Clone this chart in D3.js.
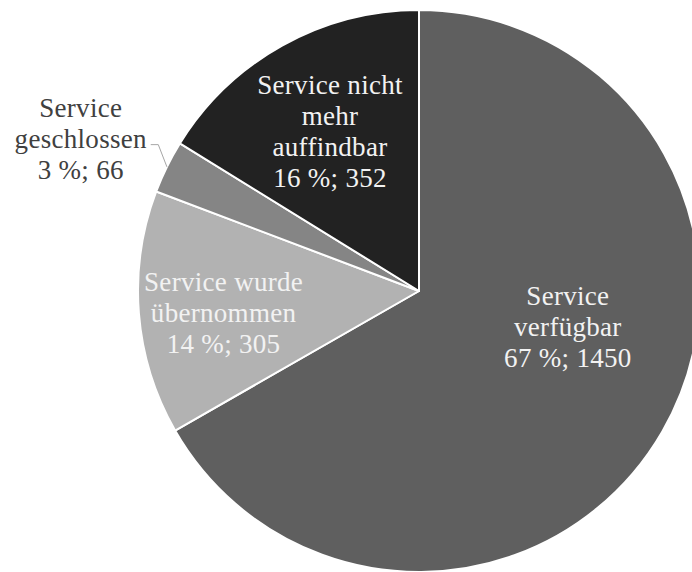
<!DOCTYPE html>
<html>
<head>
<meta charset="utf-8">
<script src="https://cdn.jsdelivr.net/npm/d3@7"></script>
<style>
  body { margin: 0; background: #fff; }
  svg { display: block; }
</style>
</head>
<body>
<div id="chart"></div>
<script>
// data
const categories = [
  'Service verfügbar',
  'Service wurde übernommen',
  'Service geschlossen',
  'Service nicht mehr auffindbar'
]
const counts = [1450, 305, 66, 352]
const percents = ['67 %', '14 %', '3 %', '16 %']
// how each label is broken into lines
const labelLines = [
  ['Service', 'verfügbar'],
  ['Service wurde', 'übernommen'],
  ['Service', 'geschlossen'],
  ['Service nicht', 'mehr', 'auffindbar']
]

const width = 692
const height = 572
const cx = 419
const cy = 291
const radius = 281

const colors = ['#5f5f5f', '#b2b2b2', '#858585', '#222222']
// label placement: radius as share of pie radius, angle shift in degrees
const labelRadius = [0.545, 0.70, 1.32, 0.65]
const labelShift = [-16.5, -2, -2, 0]
const outside = [false, false, true, false]

const svg = d3
  .select('#chart')
  .append('svg')
  .attr('width', width)
  .attr('height', height)

const g = svg.append('g').attr('transform', `translate(${cx},${cy})`)

const data = categories.map((c, i) => ({
  name: c,
  value: counts[i],
  pct: percents[i],
  lines: labelLines[i],
  i: i
}))

const pie = d3
  .pie()
  .value(d => d.value)
  .sort(null)

const arc = d3
  .arc()
  .innerRadius(0)
  .outerRadius(radius)

const arcs = pie(data)

g.selectAll('.slice')
  .data(arcs)
  .enter()
  .append('path')
  .attr('class', 'slice')
  .attr('d', arc)
  .attr('fill', d => colors[d.data.i])
  .attr('stroke', '#fff')
  .attr('stroke-width', 2)
  .attr('stroke-linejoin', 'round')

const fontSize = 27
const lineHeight = 31

function labelPos(d) {
  const mid = (d.startAngle + d.endAngle) / 2 + (labelShift[d.data.i] * Math.PI) / 180
  return d3.pointRadial(mid, radius * labelRadius[d.data.i])
}

// leader line for the outside label
arcs
  .filter(d => outside[d.data.i])
  .forEach(d => {
    const mid = (d.startAngle + d.endAngle) / 2
    const p0 = d3.pointRadial(mid, radius)
    const p1 = d3.pointRadial(mid + 0.054, radius * 1.064)
    const lp = labelPos(d)
    g.append('polyline')
      .attr('points', [p0, p1, [lp[0] + 70, p1[1]]].map(p => p.join(',')).join(' '))
      .attr('fill', 'none')
      .attr('stroke', '#a6a6a6')
      .attr('stroke-width', 1)
  })

g.selectAll('.label')
  .data(arcs)
  .enter()
  .append('text')
  .attr('class', 'label')
  .attr('font-family', '"Liberation Serif", "Times New Roman", serif')
  .attr('font-size', fontSize)
  .attr('letter-spacing', 0.3)
  .attr('text-anchor', 'middle')
  .attr('fill', d => (outside[d.data.i] ? '#404040' : '#f2f2f2'))
  .each(function(d) {
    const t = d3.select(this)
    const lines = d.data.lines.concat([d.data.pct + '; ' + d.data.value])
    const p = labelPos(d)
    const n = lines.length
    lines.forEach((line, k) => {
      t.append('tspan')
        .attr('x', p[0])
        .attr('y', p[1] + (k - (n - 1) / 2) * lineHeight + fontSize * 0.33)
        .text(line)
    })
  })
</script>
</body>
</html>
